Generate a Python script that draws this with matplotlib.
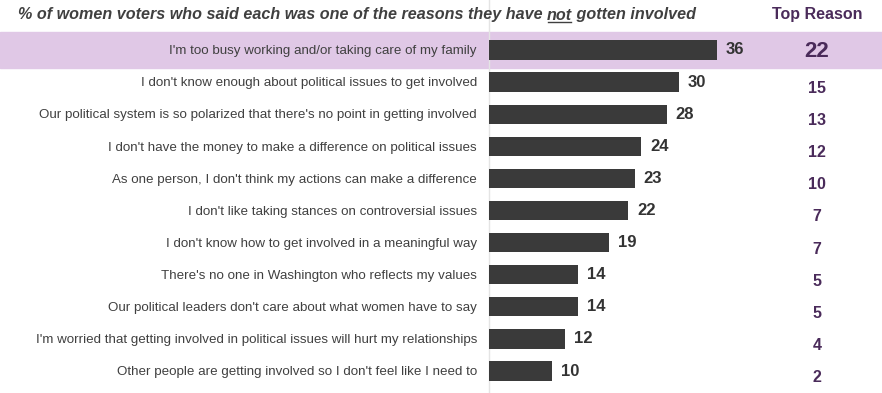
import matplotlib
matplotlib.use("Agg")
import matplotlib.pyplot as plt

reasons = [
    "I'm too busy working and/or taking care of my family",
    "I don't know enough about political issues to get involved",
    "Our political system is so polarized that there's no point in getting involved",
    "I don't have the money to make a difference on political issues",
    "As one person, I don't think my actions can make a difference",
    "I don't like taking stances on controversial issues",
    "I don't know how to get involved in a meaningful way",
    "There's no one in Washington who reflects my values",
    "Our political leaders don't care about what women have to say",
    "I'm worried that getting involved in political issues will hurt my relationships",
    "Other people are getting involved so I don't feel like I need to",
]
pct_reason = [36, 30, 28, 24, 23, 22, 19, 14, 14, 12, 10]
top_reason = [22, 15, 13, 12, 10, 7, 7, 5, 5, 4, 2]

plt.rcParams['font.family'] = ['Liberation Sans', 'DejaVu Sans']

bar_col = "#3a3a3a"
txt_col = "#404040"
purple = "#4a2b5a"
band_col = "#e0c8e6"

fig = plt.figure(figsize=(8.82, 3.93), dpi=100)
ax = fig.add_axes([0, 0, 1, 1])

px = 6.34  # pixels per percentage point
ax.set_xlim(-489 / px, (882 - 489) / px)
ax.set_ylim((393 - 50) / 32.1, -50 / 32.1)
ax.axis("off")

ax.axhspan(-0.55, 0.55, color=band_col, zorder=0)
ax.axvline(0, ymin=0, ymax=1, color="#e4e4e4", lw=1, zorder=1)

ys = list(range(len(reasons)))
ax.barh(ys, pct_reason, height=0.6, color=bar_col, zorder=2)

for i, (lab, v, t) in enumerate(zip(reasons, pct_reason, top_reason)):
    ax.text(-12 / px, i + 0.04, lab, ha="right", va="center", fontsize=9.6, color=txt_col)
    ax.text(v + 1.4, i, str(v), ha="left", va="center", fontsize=12,
            fontweight="bold", color="#333333")
    if i == 0:
        ax.text(51.7, i + 0.05, str(t), ha="center", va="center", fontsize=16,
                fontweight="bold", color=purple)
    else:
        ax.text(51.7, i + 0.2, str(t), ha="center", va="center", fontsize=11.5,
                fontweight="bold", color=purple)

# title with underlined "not"
fig.canvas.draw()
r = fig.canvas.get_renderer()
tkw = dict(fontsize=11.6, fontweight="bold", fontstyle="italic", color=txt_col,
           va="center", ha="left", transform=None)
x0, y0 = 18, 393 - 15
parts = ["% of women voters who said each was one of the reasons they have ", "not",
         " gotten involved"]
x = x0
for j, p in enumerate(parts):
    t = fig.text(x, y0, p, **tkw)
    bb = t.get_window_extent(r)
    if j == 1:
        fig.add_artist(plt.Line2D([bb.x0 + 1, bb.x1 - 1], [bb.y0 + 1, bb.y0 + 1],
                                  color=txt_col, lw=1, transform=None))
    x = bb.x1

fig.text(817 / 882, 1 - 15 / 393, "Top Reason", ha="center", va="center",
         fontsize=11.5, fontweight="bold", color=purple)

fig.savefig("out.png", dpi=100)
